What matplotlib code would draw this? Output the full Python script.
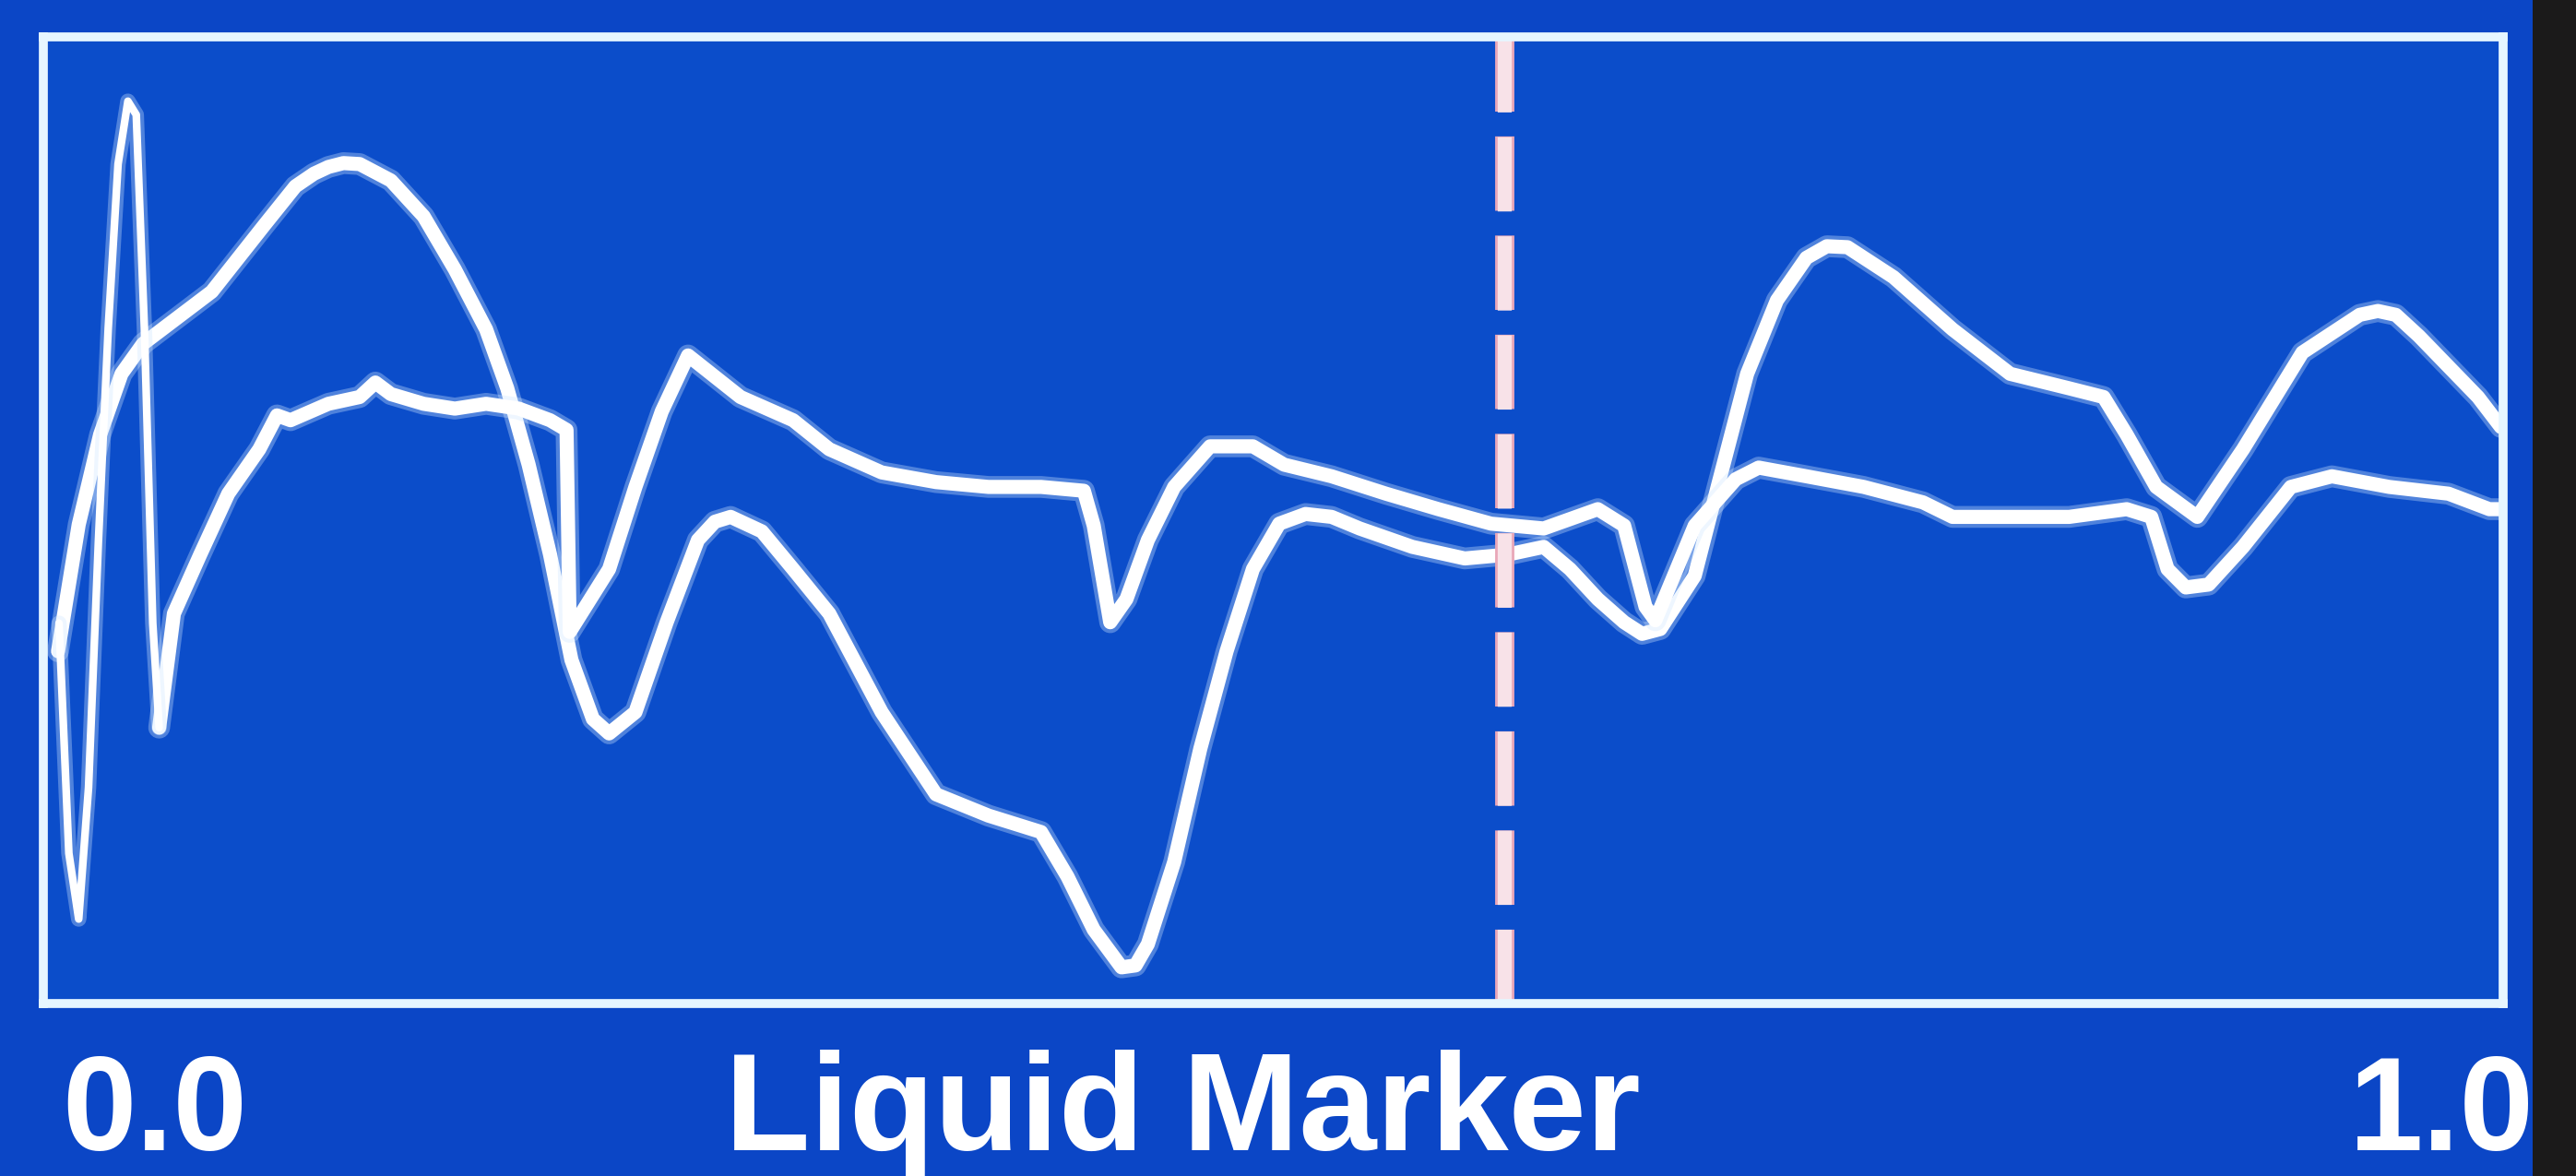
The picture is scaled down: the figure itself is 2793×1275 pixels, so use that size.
import matplotlib
matplotlib.use("Agg")
import matplotlib.pyplot as plt
from matplotlib.patches import Rectangle

# trace A: the smooth curve with the big humps
trace_a_x = [0.006, 0.0144, 0.0231, 0.0318, 0.0405, 0.0685, 0.0899, 0.1025, 0.1100, 0.1159,
             0.1220, 0.1286, 0.1413, 0.1546, 0.1673, 0.1800, 0.1886, 0.1973, 0.2060, 0.2147,
             0.2234, 0.2300, 0.2407, 0.2534, 0.2661, 0.2730, 0.2794, 0.2921, 0.3048, 0.3195,
             0.3408, 0.3629, 0.3842, 0.4056, 0.4163, 0.4270, 0.4383, 0.4440, 0.4490, 0.4597,
             0.4703, 0.4810, 0.4917, 0.5024, 0.5131, 0.5237, 0.5351, 0.5565, 0.5778, 0.5952,
             0.6099, 0.6206, 0.6319, 0.6426, 0.6499, 0.6573, 0.6713, 0.6806, 0.6926, 0.7047,
             0.7167, 0.7250, 0.7334, 0.7521, 0.7761, 0.7995, 0.8235, 0.8375, 0.8469, 0.8589,
             0.8756, 0.8942, 0.9183, 0.9416, 0.9490, 0.9563, 0.9657, 0.9897, 0.9990]
trace_a_y = [36.4, 49.5, 58.8, 65.1, 68.2, 73.6, 80.5, 84.5, 85.8, 86.5,
             86.9, 86.8, 85.1, 81.4, 75.9, 69.7, 63.6, 55.7, 46.4, 35.5,
             29.4, 27.9, 30.1, 39.4, 47.9, 49.8, 50.3, 48.8, 44.9, 40.3,
             30.1, 21.6, 19.4, 17.7, 13.1, 7.6, 3.7, 3.9, 6.1, 14.6,
             26.3, 36.4, 44.9, 49.6, 50.6, 50.3, 49.1, 47.2, 46.0, 46.4,
             47.2, 44.9, 41.8, 39.4, 38.2, 38.7, 44.2, 53.4, 65.1, 72.7,
             77.1, 78.3, 78.2, 75.1, 69.7, 65.1, 63.6, 62.7, 58.8, 53.4,
             50.3, 57.3, 67.3, 71.2, 71.6, 71.2, 69.0, 62.7, 59.6]

# start-up transient (thin spike at the left)
spike_x = [0.0064, 0.0104, 0.0144, 0.0184, 0.0224, 0.0264, 0.0304, 0.0344, 0.0378, 0.0411,
           0.0445, 0.0471]
spike_y = [39.3, 15.5, 8.7, 22.3, 47.7, 69.8, 86.8, 93.3, 91.9, 69.8,
           39.3, 28.5]

# trace B: the noisier, flatter curve
trace_b_x = [0.0471, 0.0531, 0.0638, 0.0752, 0.0878, 0.0950, 0.1005, 0.1159, 0.1286, 0.1350,
             0.1413, 0.1546, 0.1673, 0.1800, 0.1933, 0.2060, 0.2127, 0.2140, 0.2300, 0.2407,
             0.2514, 0.2621, 0.2834, 0.3048, 0.3195, 0.3408, 0.3629, 0.3842, 0.4056, 0.4230,
             0.4270, 0.4337, 0.4403, 0.4490, 0.4597, 0.4743, 0.4917, 0.5044, 0.5237, 0.5458,
             0.5671, 0.5885, 0.6099, 0.6319, 0.6426, 0.6513, 0.6553, 0.6713, 0.6880, 0.6973,
             0.7167, 0.7400, 0.7641, 0.7761, 0.7995, 0.8235, 0.8469, 0.8569, 0.8635, 0.8709,
             0.8802, 0.8942, 0.9136, 0.9303, 0.9536, 0.9777, 0.9943, 1.0]
trace_b_y = [28.5, 40.3, 46.4, 52.7, 57.3, 60.8, 60.3, 62.0, 62.7, 64.2,
             63.0, 62.0, 61.5, 62.0, 61.5, 60.3, 59.3, 38.4, 44.9, 53.4,
             61.2, 67.0, 62.7, 60.3, 57.3, 54.9, 53.9, 53.4, 53.4, 53.0,
             49.4, 39.4, 41.8, 47.9, 53.4, 57.6, 57.6, 55.7, 54.5, 52.7,
             51.1, 49.6, 49.1, 51.1, 49.4, 41.0, 39.6, 49.4, 54.2, 55.4,
             54.5, 53.4, 51.8, 50.3, 50.3, 50.3, 51.1, 50.3, 44.9, 43.0,
             43.3, 47.2, 53.4, 54.5, 53.4, 52.7, 51.1, 51.1]

marker_x = 0.594
tick_labels = ["0.0", "1.0"]
axis_title = "Liquid Marker"

screen_blue = "#0b46c6"
plot_blue = "#0b4dca"
trace_col = "#ffffff"
frame_col = "#e6f6ff"
marker_col = "#f8e2e8"

fig = plt.figure(figsize=(27.93, 12.75), dpi=100, facecolor=screen_blue)
ax = fig.add_axes([0.0168, 0.147, 0.955, 0.822])
ax.set_facecolor(plot_blue)

for xs, ys, lw in [(trace_a_x, trace_a_y, 11), (trace_b_x, trace_b_y, 11), (spike_x, spike_y, 6)]:
    # soft glow under each trace, like the bleed on the photographed screen
    ax.plot(xs, ys, color="#cfe6ff", lw=lw + 6, alpha=0.35, solid_joinstyle="round",
            solid_capstyle="round")
    ax.plot(xs, ys, color=trace_col, lw=lw, solid_joinstyle="round", solid_capstyle="round")

# ten dashes from frame to frame
ax.axvline(marker_x, color="#e9a7b8", lw=15, dashes=(3.87, 1.29))
ax.axvline(marker_x, color=marker_col, lw=11, dashes=(5.27, 1.76))

ax.set_xlim(0, 1)
ax.set_ylim(0, 100)
ax.set_xticks([])
ax.set_yticks([])
for sp in ax.spines.values():
    sp.set_color(frame_col)
    sp.set_linewidth(7)

fams = ["Liberation Sans", "DejaVu Sans"]
fig.text(0.060, 0.022, tick_labels[0], color="white", fontsize=104, fontweight="bold",
         family=fams, ha="center", va="baseline")
fig.text(0.948, 0.022, tick_labels[1], color="white", fontsize=104, fontweight="bold",
         family=fams, ha="center", va="baseline")
fig.text(0.459, 0.022, axis_title, color="white", fontsize=109, fontweight="bold",
         family=fams, ha="center", va="baseline")

# dark phone bezel on the right edge of the photo
fig.patches.append(Rectangle((0.983, 0), 0.017, 1, transform=fig.transFigure,
                             facecolor="#1b1a1a", edgecolor="none", zorder=10))

fig.savefig("out.png", dpi=100, facecolor=screen_blue)
